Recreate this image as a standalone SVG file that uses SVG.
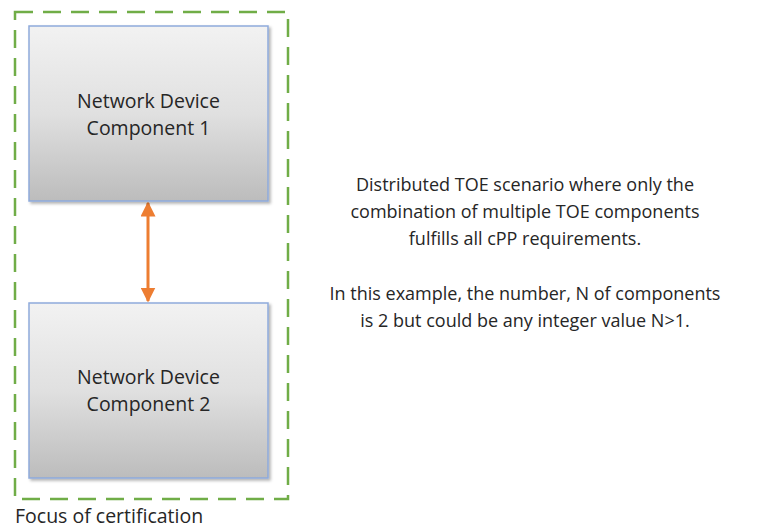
<svg xmlns="http://www.w3.org/2000/svg" width="758" height="531" viewBox="0 0 758 531">
  <style>
    .t { font-family: "Open Sans", "Liberation Sans", sans-serif; font-size: 18px; fill: #262626; }
    .big { font-size: 19.5px; }
    .c { text-anchor: middle; }
    .box { fill: url(#g); stroke: #8eaadb; stroke-width: 1.5; filter: url(#sh); }
    .focus { fill: none; stroke: #70ad47; stroke-width: 2.5; stroke-dasharray: 18 10; }
    .conn { stroke: #ed7d31; stroke-width: 3; fill: none; }
  </style>
  <defs>
    <linearGradient id="g" x1="0" y1="0" x2="0" y2="1">
      <stop offset="0" stop-color="#f2f2f2"/>
      <stop offset="0.5" stop-color="#e0e0e0"/>
      <stop offset="1" stop-color="#bcbcbc"/>
    </linearGradient>
    <filter id="sh" x="-10%" y="-10%" width="125%" height="125%">
      <feDropShadow dx="2" dy="2" stdDeviation="1.5" flood-color="#000" flood-opacity="0.3"/>
    </filter>
    <marker id="ah" viewBox="0 0 10 10" refX="9" refY="5" markerWidth="5" markerHeight="5" orient="auto-start-reverse" markerUnits="strokeWidth">
      <path d="M0,0 L10,5 L0,10 z" fill="#ed7d31"/>
    </marker>
  </defs>
  <g id="focus-area">
    <rect class="focus" x="15" y="12" width="273" height="487"/>
    <text class="t big" x="15" y="523">Focus of certification</text>
  </g>
  <g id="connectors">
    <line class="conn" x1="148" y1="203" x2="148" y2="301" marker-start="url(#ah)" marker-end="url(#ah)"/>
  </g>
  <g id="component1">
    <rect class="box" x="29" y="26" width="239" height="175"/>
    <text class="t big c" x="148.5" y="108">Network Device</text>
    <text class="t big c" x="148.5" y="135">Component 1</text>
  </g>
  <g id="component2">
    <rect class="box" x="29" y="303" width="239" height="175"/>
    <text class="t big c" x="148.5" y="384">Network Device</text>
    <text class="t big c" x="148.5" y="411">Component 2</text>
  </g>
  <g id="description">
    <text class="t c" x="525" y="191">Distributed TOE scenario where only the</text>
    <text class="t c" x="525" y="218">combination of multiple TOE components</text>
    <text class="t c" x="525" y="245">fulfills all cPP requirements.</text>
    <text class="t c" x="525" y="300">In this example, the number, N of components</text>
    <text class="t c" x="525" y="327">is 2 but could be any integer value N&gt;1.</text>
  </g>
</svg>
